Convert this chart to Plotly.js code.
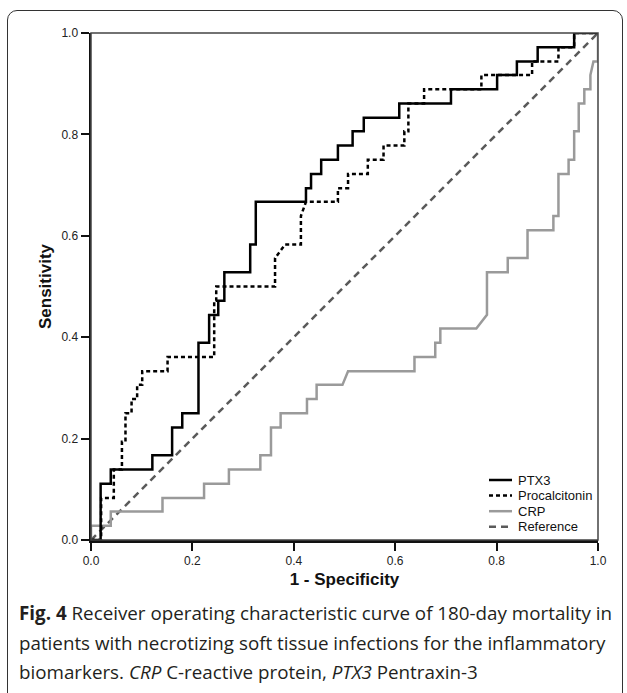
<!DOCTYPE html>
<html>
<head>
<meta charset="utf-8">
<script src="https://cdn.plot.ly/plotly-3.0.1.min.js"></script>
<style>
  html, body { margin: 0; padding: 0; background: #fff; overflow: hidden; }
  #wrap { position: relative; width: 627px; height: 693px; overflow: hidden; }
  #frame { position: absolute; left: 7px; top: 10px; width: 616px; height: 720px;
           border: 1.5px solid #333; border-radius: 10px; box-sizing: border-box; pointer-events: none; }
  #chart { position: absolute; left: 0; top: 0; width: 627px; height: 693px; }
</style>
</head>
<body>
<div id="wrap">
  <div id="chart"></div>
  <div id="frame"></div>
</div>
<script>
// ROC curve vertices: x = 1 - Specificity, y = Sensitivity
const ptx3X = [0, 0.019, 0.019, 0.039, 0.039, 0.121, 0.121, 0.160, 0.160, 0.180, 0.180, 0.212, 0.212, 0.233, 0.233, 0.251, 0.251, 0.263, 0.263, 0.314, 0.314, 0.325, 0.325, 0.424, 0.424, 0.434, 0.434, 0.454, 0.454, 0.487, 0.487, 0.516, 0.516, 0.538, 0.538, 0.608, 0.608, 0.710, 0.710, 0.801, 0.801, 0.840, 0.840, 0.881, 0.881, 0.953, 0.953, 1.0];
const ptx3Y = [0, 0, 0.111, 0.111, 0.139, 0.139, 0.167, 0.167, 0.222, 0.222, 0.250, 0.250, 0.389, 0.389, 0.444, 0.444, 0.472, 0.472, 0.528, 0.528, 0.583, 0.583, 0.667, 0.667, 0.694, 0.694, 0.722, 0.722, 0.750, 0.750, 0.778, 0.778, 0.806, 0.806, 0.833, 0.833, 0.861, 0.861, 0.889, 0.889, 0.917, 0.917, 0.944, 0.944, 0.972, 0.972, 1.0, 1.0];

const pctX = [0, 0.020, 0.020, 0.045, 0.045, 0.061, 0.061, 0.068, 0.068, 0.080, 0.080, 0.091, 0.091, 0.101, 0.101, 0.151, 0.151, 0.243, 0.243, 0.247, 0.247, 0.363, 0.363, 0.383, 0.414, 0.414, 0.424, 0.487, 0.487, 0.507, 0.507, 0.546, 0.546, 0.577, 0.577, 0.618, 0.618, 0.626, 0.626, 0.657, 0.657, 0.770, 0.770, 0.870, 0.870, 0.922, 0.922, 0.953, 0.953, 1.0];
const pctY = [0, 0, 0.083, 0.083, 0.139, 0.139, 0.194, 0.194, 0.250, 0.250, 0.278, 0.278, 0.306, 0.306, 0.333, 0.333, 0.361, 0.361, 0.472, 0.472, 0.500, 0.500, 0.556, 0.583, 0.583, 0.639, 0.667, 0.667, 0.694, 0.694, 0.722, 0.722, 0.750, 0.750, 0.778, 0.778, 0.806, 0.806, 0.861, 0.861, 0.889, 0.889, 0.917, 0.917, 0.944, 0.944, 0.972, 0.972, 1.0, 1.0];

const crpX = [0, 0, 0.039, 0.039, 0.141, 0.141, 0.223, 0.223, 0.272, 0.272, 0.334, 0.334, 0.355, 0.355, 0.374, 0.374, 0.426, 0.426, 0.445, 0.445, 0.496, 0.507, 0.638, 0.638, 0.679, 0.679, 0.689, 0.689, 0.760, 0.781, 0.781, 0.822, 0.822, 0.861, 0.861, 0.912, 0.912, 0.922, 0.922, 0.942, 0.942, 0.953, 0.953, 0.962, 0.962, 0.973, 0.973, 0.985, 0.985, 0.991, 1.0, 1.0];
const crpY = [0, 0.028, 0.028, 0.056, 0.056, 0.083, 0.083, 0.111, 0.111, 0.139, 0.139, 0.167, 0.167, 0.222, 0.222, 0.250, 0.250, 0.278, 0.278, 0.306, 0.306, 0.333, 0.333, 0.361, 0.361, 0.389, 0.389, 0.417, 0.417, 0.444, 0.528, 0.528, 0.556, 0.556, 0.611, 0.611, 0.639, 0.639, 0.722, 0.722, 0.750, 0.750, 0.806, 0.806, 0.861, 0.861, 0.889, 0.889, 0.917, 0.944, 0.944, 1.0];

const refX = [0, 1];
const refY = [0, 1];

const tickVals = [0, 0.2, 0.4, 0.6, 0.8, 1.0];
const tickText = ["0.0", "0.2", "0.4", "0.6", "0.8", "1.0"];

const seriesNames = ["PTX3", "Procalcitonin", "CRP", "Reference"];
const xTitle = "1 - Specificity";
const yTitle = "Sensitivity";
const captionLines = [
  "<b>Fig. 4</b> Receiver operating characteristic curve of 180-day mortality in",
  "patients with necrotizing soft tissue infections for the inflammatory",
  "biomarkers. <i>CRP</i> C-reactive protein, <i>PTX3</i> Pentraxin-3"
];

// styles per series (legend order)
const styles = [
  { color: "#000", width: 2.5, dash: "solid" },
  { color: "#000", width: 2.5, dash: "4px,3px" },
  { color: "#9a9a9a", width: 2.5, dash: "solid" },
  { color: "#5a5a5a", width: 2.5, dash: "7px,5px" }
];

const traces = [
  { x: refX, y: refY, name: seriesNames[3], mode: "lines", line: styles[3] },
  { x: crpX, y: crpY, name: seriesNames[2], mode: "lines", line: styles[2] },
  { x: pctX, y: pctY, name: seriesNames[1], mode: "lines", line: styles[1] },
  { x: ptx3X, y: ptx3Y, name: seriesNames[0], mode: "lines", line: styles[0] }
];

const axisCommon = {
  range: [0, 1], tickvals: tickVals, ticktext: tickText,
  showgrid: false, zeroline: false, showline: true, linecolor: "#111", linewidth: 2.5,
  ticks: "outside", ticklen: 8, tickwidth: 2, tickcolor: "#111",
  tickfont: { family: "Liberation Sans, Arial, sans-serif", size: 12, color: "#222" },
  fixedrange: true
};

const capFont = { family: "Open Sans, Noto Sans, sans-serif", size: 18.8, color: "#231f20" };
function pxToPaperX(px) { return (px - 91) / 507; }
function pxToPaperY(py) { return (540 - py) / 507; }

const annotations = captionLines.map((t, i) => ({
  text: t, xref: "paper", yref: "paper", x: pxToPaperX(17), y: pxToPaperY(613 + i * 29.5),
  xanchor: "left", yanchor: "middle", showarrow: false, align: "left", font: capFont
}));

// custom legend (compact rows like the reference)
const shapes = [
  { type: "rect", xref: "paper", yref: "paper", x0: 0, x1: 1, y0: 0, y1: 1,
    line: { color: "#444", width: 1.5 }, fillcolor: "rgba(0,0,0,0)", layer: "above" }
];
seriesNames.forEach((nm, i) => {
  const py = 480 + i * 15.6;
  shapes.push({ type: "line", xref: "paper", yref: "paper",
    x0: pxToPaperX(489), x1: pxToPaperX(512), y0: pxToPaperY(py), y1: pxToPaperY(py),
    line: styles[i] });
  annotations.push({ text: nm, xref: "paper", yref: "paper", x: pxToPaperX(516), y: pxToPaperY(py),
    xanchor: "left", yanchor: "middle", showarrow: false,
    font: { family: "Liberation Sans, Arial, sans-serif", size: 13, color: "#111" } });
});

const layout = {
  width: 627, height: 693,
  margin: { l: 91, r: 29, t: 33, b: 153 },
  paper_bgcolor: "rgba(0,0,0,0)", plot_bgcolor: "#fff",
  showlegend: false,
  xaxis: Object.assign({}, axisCommon, {
    title: { text: "<b>" + xTitle + "</b>", standoff: 6,
             font: { family: "Liberation Sans, Arial, sans-serif", size: 17, color: "#111" } },
    automargin: false
  }),
  yaxis: Object.assign({}, axisCommon, {
    title: { text: "<b>" + yTitle + "</b>", standoff: 6,
             font: { family: "Liberation Sans, Arial, sans-serif", size: 17, color: "#111" } },
    automargin: false
  }),
  shapes: shapes,
  annotations: annotations
};

Plotly.newPlot("chart", traces, layout, { staticPlot: true, displayModeBar: false });
</script>
</body>
</html>
